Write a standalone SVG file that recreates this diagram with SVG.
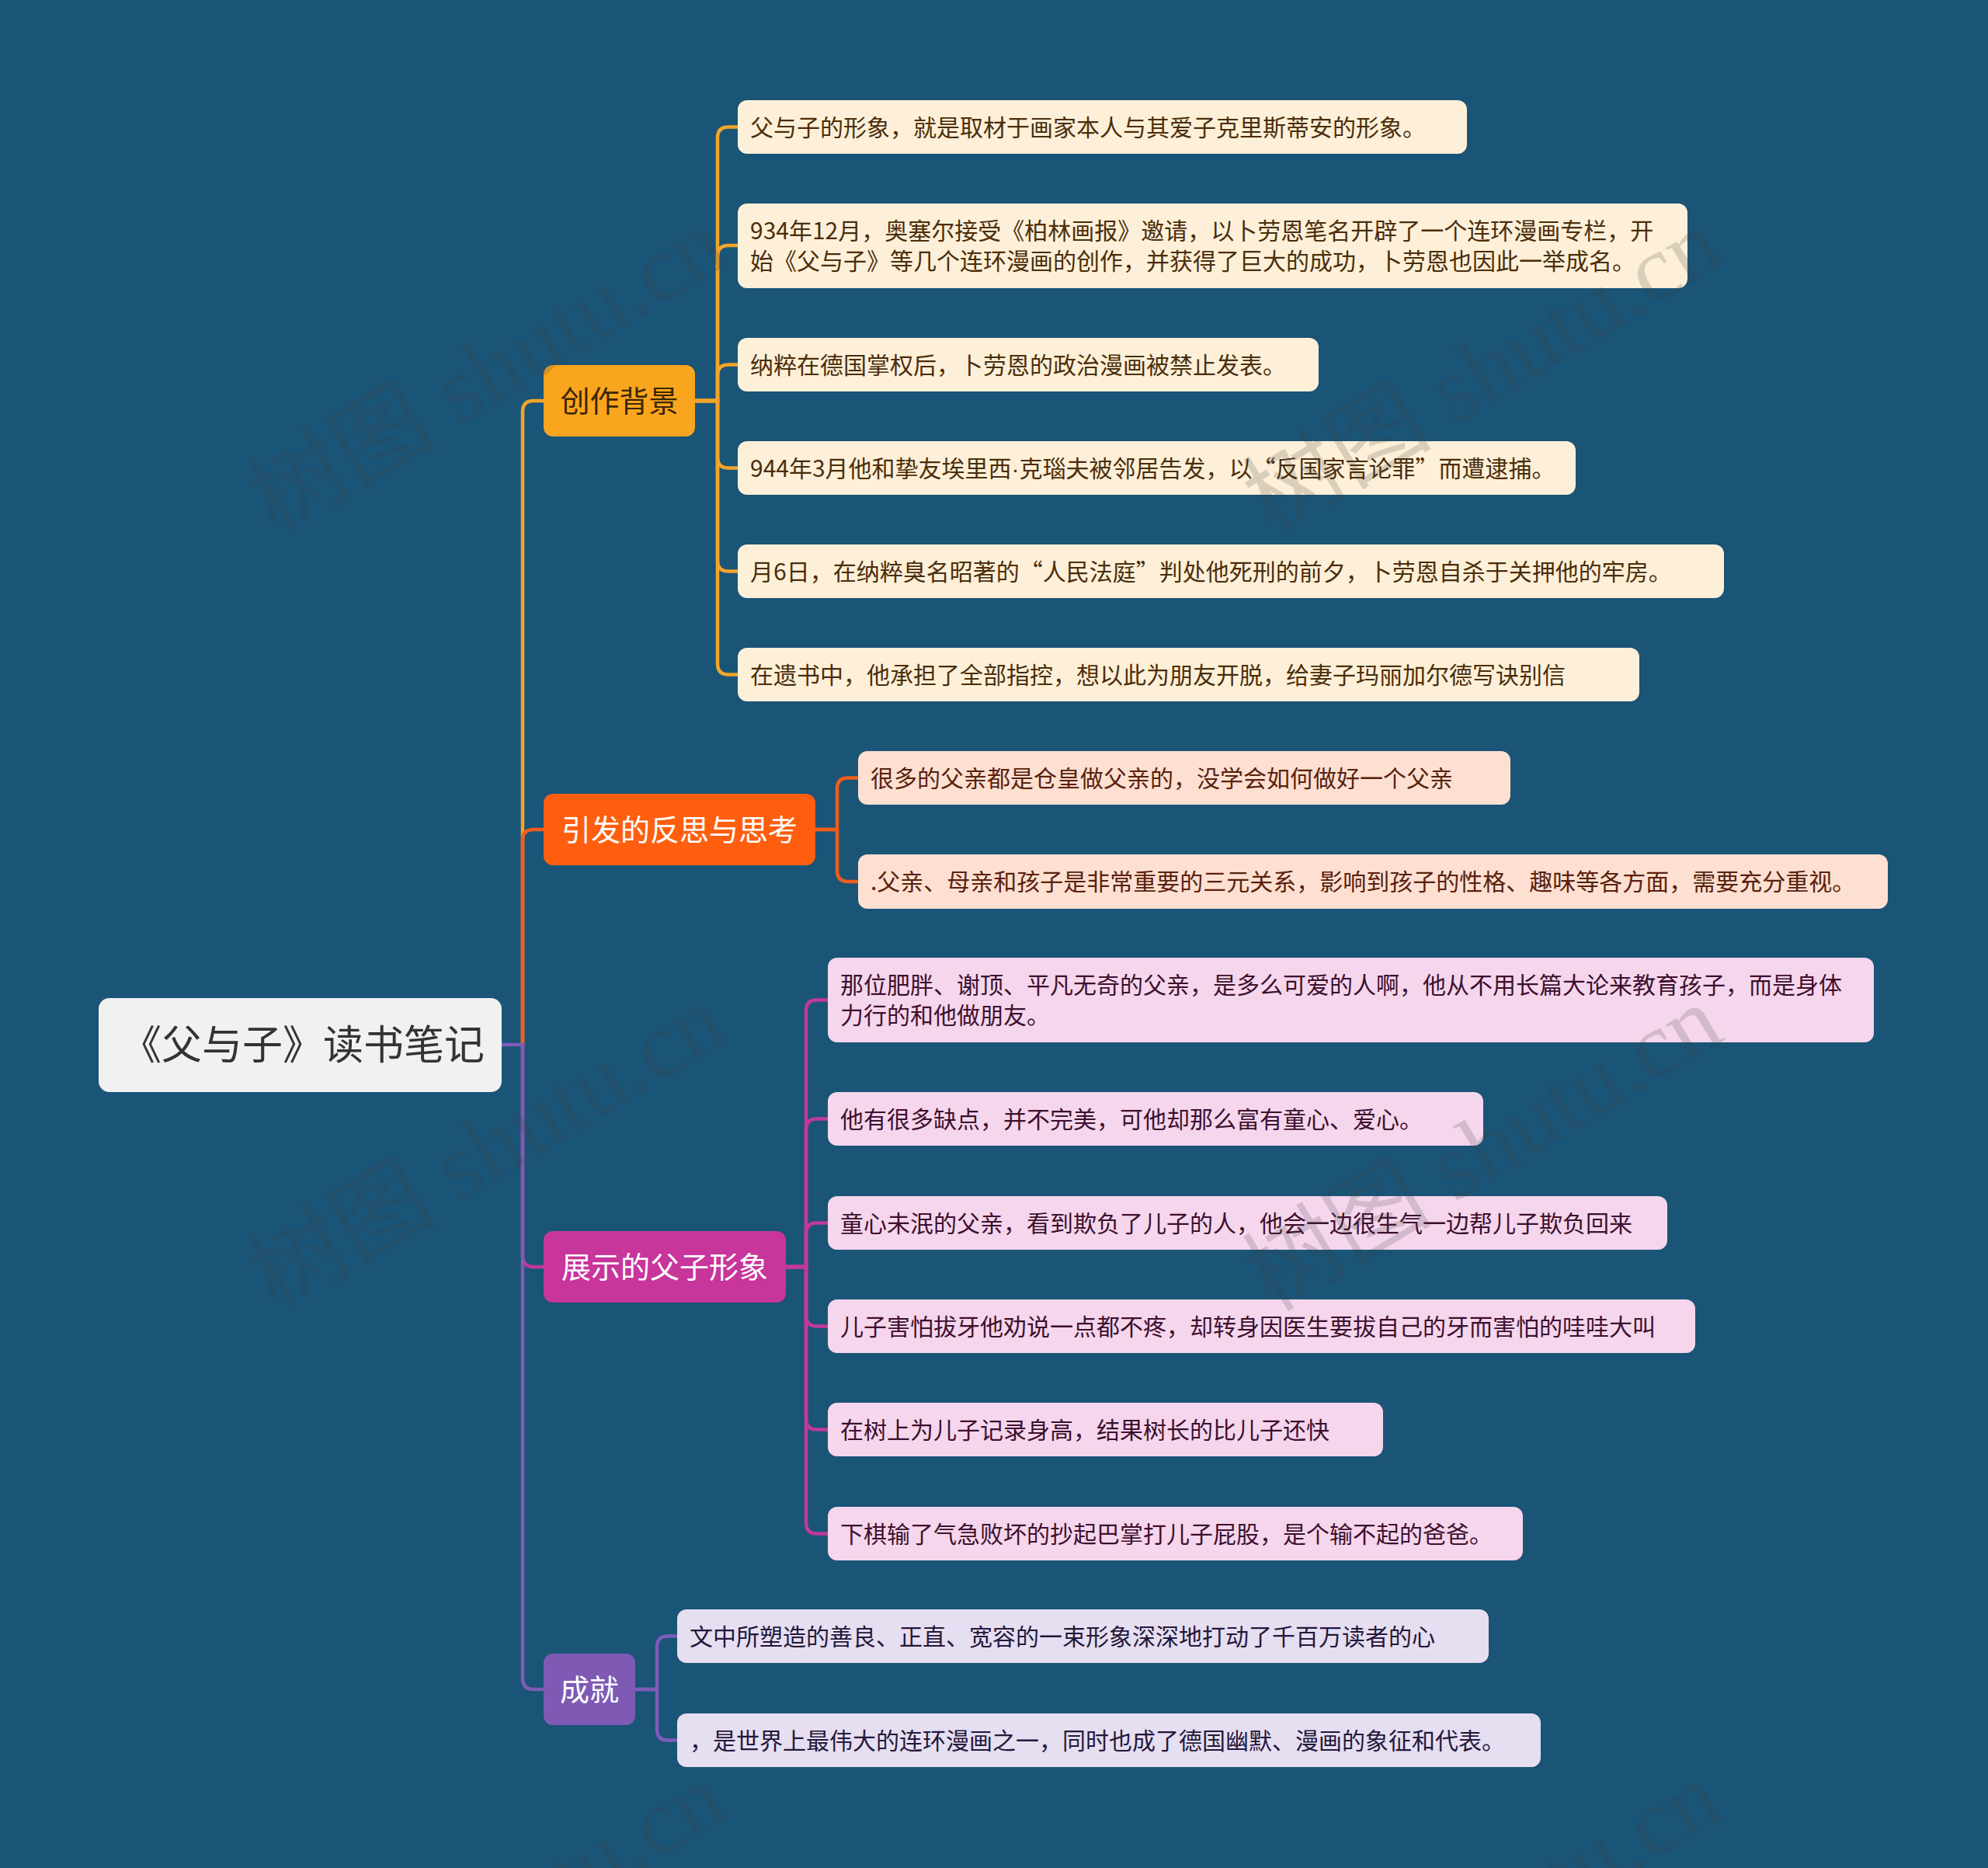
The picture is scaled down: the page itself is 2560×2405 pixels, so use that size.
<svg xmlns="http://www.w3.org/2000/svg" width="2560" height="2405" viewBox="0 0 2560 2405">
<style>
text{font-family:"Noto Sans CJK SC","Noto Sans",sans-serif;}
.lf{font-size:30px;}
.br{font-size:38px;text-anchor:middle;}
.c1{fill:none;stroke:#F2A52A;stroke-width:4.5;}
.c2{fill:none;stroke:#F05E1A;stroke-width:4.5;}
.c3{fill:none;stroke:#C2399A;stroke-width:4.5;}
.c4{fill:none;stroke:#7D5CB6;stroke-width:4.5;}
.l1 rect{fill:#FEF0D8;} .l1 text{fill:#4b2d0b;}
.l2 rect{fill:#FDE0D1;} .l2 text{fill:#5a200e;}
.l3 rect{fill:#F5D6EC;} .l3 text{fill:#3d0f2e;}
.l4 rect{fill:#E6DEF1;} .l4 text{fill:#24183a;}
.dot{font-family:"Liberation Sans",sans-serif;}
.wm{font-family:"Liberation Serif","Noto Sans CJK SC",serif;font-size:122px;fill:#404040;opacity:0.19;}
</style>
<rect width="2560" height="2405" fill="#1a5477"/>
<g id="connectors">
<path class="c1" d="M673 1345V530Q673 516 687 516H700"/>
<path class="c2" d="M673 1345V1082Q673 1068 687 1068H700"/>
<path class="c3" d="M673 1345V1617Q673 1631 687 1631H700"/>
<path class="c4" d="M646 1345H673V2161Q673 2175 687 2175H700"/>
<path class="c1" d="M895 516H924V177.5Q924 163.5 938 163.5H950"/>
<path class="c1" d="M895 516H924V330Q924 316 938 316H950"/>
<path class="c1" d="M895 516H924V483.5Q924 469.5 938 469.5H950"/>
<path class="c1" d="M895 516H924V588.5Q924 602.5 938 602.5H950"/>
<path class="c1" d="M895 516H924V721.5Q924 735.5 938 735.5H950"/>
<path class="c1" d="M895 516H924V854.5Q924 868.5 938 868.5H950"/>
<path class="c2" d="M1050 1068H1078V1015.5Q1078 1001.5 1092 1001.5H1105"/>
<path class="c2" d="M1050 1068H1078V1121Q1078 1135 1092 1135H1105"/>
<path class="c3" d="M1012 1631H1038V1301.5Q1038 1287.5 1052 1287.5H1066"/>
<path class="c3" d="M1012 1631H1038V1454.5Q1038 1440.5 1052 1440.5H1066"/>
<path class="c3" d="M1012 1631H1038V1588.5Q1038 1574.5 1052 1574.5H1066"/>
<path class="c3" d="M1012 1631H1038V1693.5Q1038 1707.5 1052 1707.5H1066"/>
<path class="c3" d="M1012 1631H1038V1826.5Q1038 1840.5 1052 1840.5H1066"/>
<path class="c3" d="M1012 1631H1038V1960.5Q1038 1974.5 1052 1974.5H1066"/>
<path class="c4" d="M818 2175H846V2120.5Q846 2106.5 860 2106.5H872"/>
<path class="c4" d="M818 2175H846V2226.5Q846 2240.5 860 2240.5H872"/>
</g>
<g id="root">
<rect x="127" y="1285" width="519" height="121" rx="14" fill="#F1F1F2"/>
<text x="390" y="1364" font-size="52" text-anchor="middle" fill="#333333">《父与子》读书笔记</text>
</g>
<g id="b1">
<rect x="700" y="470" width="195" height="92" rx="12" fill="#F9A51D"/>
<text class="br" x="797.5" y="530" fill="#3a2606">创作背景</text>
</g>
<g id="b2">
<rect x="700" y="1022" width="350" height="92" rx="12" fill="#FF5E0E"/>
<text class="br" x="875" y="1082" fill="#ffffff">引发的反思与思考</text>
</g>
<g id="b3">
<rect x="700" y="1585" width="312" height="92" rx="12" fill="#C8359B"/>
<text class="br" x="856" y="1645" fill="#ffffff">展示的父子形象</text>
</g>
<g id="b4">
<rect x="700" y="2129" width="118" height="92" rx="12" fill="#7E5AB5"/>
<text class="br" x="759" y="2189" fill="#ffffff">成就</text>
</g>
<g id="b1-1" class="l1"><rect x="950" y="129" width="939" height="69" rx="12"/><text class="lf" x="966" y="174.5">父与子的形象，就是取材于画家本人与其爱子克里斯蒂安的形象。</text></g>
<g id="b1-2" class="l1"><rect x="950" y="262" width="1223" height="109" rx="12"/><text class="lf" x="966" y="307.5">934年12月，奥塞尔接受《柏林画报》邀请，以卜劳恩笔名开辟了一个连环漫画专栏，开</text><text class="lf" x="966" y="346.5">始《父与子》等几个连环漫画的创作，并获得了巨大的成功，卜劳恩也因此一举成名。</text></g>
<g id="b1-3" class="l1"><rect x="950" y="435" width="748" height="69" rx="12"/><text class="lf" x="966" y="480.5">纳粹在德国掌权后，卜劳恩的政治漫画被禁止发表。</text></g>
<g id="b1-4" class="l1"><rect x="950" y="568" width="1079" height="69" rx="12"/><text class="lf" x="966" y="613.5">944年3月他和挚友埃里西<tspan class="dot">·</tspan>克瑙夫被邻居告发，以“反国家言论罪”而遭逮捕。</text></g>
<g id="b1-5" class="l1"><rect x="950" y="701" width="1270" height="69" rx="12"/><text class="lf" x="966" y="746.5">月6日，在纳粹臭名昭著的“人民法庭”判处他死刑的前夕，卜劳恩自杀于关押他的牢房。</text></g>
<g id="b1-6" class="l1"><rect x="950" y="834" width="1161" height="69" rx="12"/><text class="lf" x="966" y="879.5">在遗书中，他承担了全部指控，想以此为朋友开脱，给妻子玛丽加尔德写诀别信</text></g>
<g id="b2-1" class="l2"><rect x="1105" y="967" width="840" height="69" rx="12"/><text class="lf" x="1121" y="1012.5">很多的父亲都是仓皇做父亲的，没学会如何做好一个父亲</text></g>
<g id="b2-2" class="l2"><rect x="1105" y="1100" width="1326" height="70" rx="12"/><text class="lf" x="1121" y="1146">.父亲、母亲和孩子是非常重要的三元关系，影响到孩子的性格、趣味等各方面，需要充分重视。</text></g>
<g id="b3-1" class="l3"><rect x="1066" y="1233" width="1347" height="109" rx="12"/><text class="lf" x="1082" y="1279">那位肥胖、谢顶、平凡无奇的父亲，是多么可爱的人啊，他从不用长篇大论来教育孩子，而是身体</text><text class="lf" x="1082" y="1318">力行的和他做朋友。</text></g>
<g id="b3-2" class="l3"><rect x="1066" y="1406" width="844" height="69" rx="12"/><text class="lf" x="1082" y="1451.5">他有很多缺点，并不完美，可他却那么富有童心、爱心。</text></g>
<g id="b3-3" class="l3"><rect x="1066" y="1540" width="1081" height="69" rx="12"/><text class="lf" x="1082" y="1585.5">童心未泯的父亲，看到欺负了儿子的人，他会一边很生气一边帮儿子欺负回来</text></g>
<g id="b3-4" class="l3"><rect x="1066" y="1673" width="1117" height="69" rx="12"/><text class="lf" x="1082" y="1718.5">儿子害怕拔牙他劝说一点都不疼，却转身因医生要拔自己的牙而害怕的哇哇大叫</text></g>
<g id="b3-5" class="l3"><rect x="1066" y="1806" width="715" height="69" rx="12"/><text class="lf" x="1082" y="1851.5">在树上为儿子记录身高，结果树长的比儿子还快</text></g>
<g id="b3-6" class="l3"><rect x="1066" y="1940" width="895" height="69" rx="12"/><text class="lf" x="1082" y="1985.5">下棋输了气急败坏的抄起巴掌打儿子屁股，是个输不起的爸爸。</text></g>
<g id="b4-1" class="l4"><rect x="872" y="2072" width="1045" height="69" rx="12"/><text class="lf" x="888" y="2117.5">文中所塑造的善良、正直、宽容的一束形象深深地打动了千百万读者的心</text></g>
<g id="b4-2" class="l4"><rect x="872" y="2206" width="1112" height="69" rx="12"/><text class="lf" x="888" y="2251.5">，是世界上最伟大的连环漫画之一，同时也成了德国幽默、漫画的象征和代表。</text></g>
<g id="watermarks">
<text class="wm" transform="translate(355 690) rotate(-31)">树图 shutu.cn</text>
<text class="wm" transform="translate(1637 690) rotate(-31)">树图 shutu.cn</text>
<text class="wm" transform="translate(355 1690) rotate(-31)">树图 shutu.cn</text>
<text class="wm" transform="translate(1637 1690) rotate(-31)">树图 shutu.cn</text>
<text class="wm" transform="translate(355 2690) rotate(-31)">树图 shutu.cn</text>
<text class="wm" transform="translate(1637 2690) rotate(-31)">树图 shutu.cn</text>
</g>
</svg>
